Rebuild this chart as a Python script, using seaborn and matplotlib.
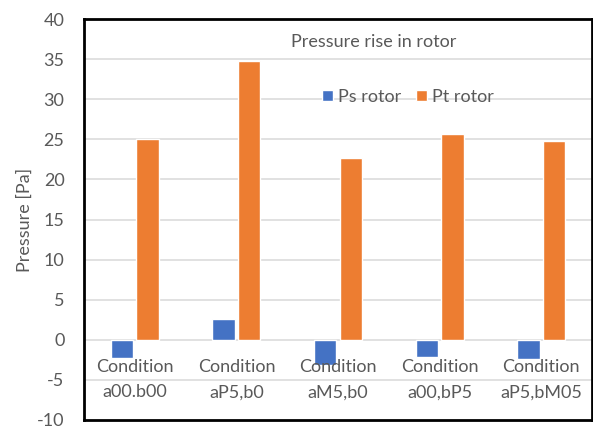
import matplotlib
matplotlib.use("Agg")
import matplotlib.pyplot as plt
import seaborn as sns
import pandas as pd

categories = ["Condition\na00.b00", "Condition\naP5,b0", "Condition\naM5,b0",
              "Condition\na00,bP5", "Condition\naP5,bM05"]
ps_rotor = [-2.3, 2.6, -3.2, -2.1, -2.4]
pt_rotor = [25.0, 34.8, 22.7, 25.6, 24.8]
series_names = ["Ps rotor", "Pt rotor"]
y_ticks = list(range(-10, 41, 5))

df = pd.DataFrame({
    "cat": categories * 2,
    "series": [series_names[0]] * len(categories) + [series_names[1]] * len(categories),
    "value": ps_rotor + pt_rotor,
})

sns.set_theme(style="white")
plt.rcParams["font.family"] = ["Lato", "DejaVu Sans"]
txt = "#595959"
fs = 13

fig = plt.figure(figsize=(5.93, 4.29), dpi=100)
ax = fig.add_axes([84 / 593, 1 - 420 / 429, 508 / 593, 401 / 429])

sns.barplot(data=df, x="cat", y="value", hue="series", order=categories,
            hue_order=series_names, palette=["#4472C4", "#ED7D31"],
            saturation=1, width=0.506, gap=0.13, ax=ax, legend=True)

ax.set_ylim(-10, 40)
ax.set_xlim(-0.5, len(categories) - 0.5)
ax.set_yticks(y_ticks)
ax.set_yticklabels([str(t) for t in y_ticks], color=txt, fontsize=fs)
ax.tick_params(axis="y", length=0, pad=14)
ax.set_xticks([])
ax.set_xlabel("")
ax.set_ylabel("Pressure [Pa]", color=txt, fontsize=fs)
ax.yaxis.set_label_coords(-0.100, 0.5)

for t in y_ticks[1:-1]:
    ax.axhline(t, color="#D9D9D9", lw=1.1, zorder=0)

for s in ax.spines.values():
    s.set_visible(True)
    s.set_color("black")
    s.set_linewidth(2)

for i, c in enumerate(categories):
    ax.text(i, -2.4, c, ha="center", va="top", color=txt, fontsize=fs,
            linespacing=1.7, zorder=5)

fig.text(374 / 593, 1 - 42 / 429, "Pressure rise in rotor", ha="center",
         va="center", color=txt, fontsize=fs)

handles, labels = ax.get_legend_handles_labels()
ax.get_legend().remove()
fig.legend(handles, labels, loc="center", bbox_to_anchor=(408 / 593, 1 - 97 / 429),
           ncol=2, frameon=False, fontsize=fs, labelcolor=txt,
           handlelength=0.6, handleheight=0.6, handletextpad=0.3,
           columnspacing=0.8)

fig.savefig("out.png", dpi=100)
